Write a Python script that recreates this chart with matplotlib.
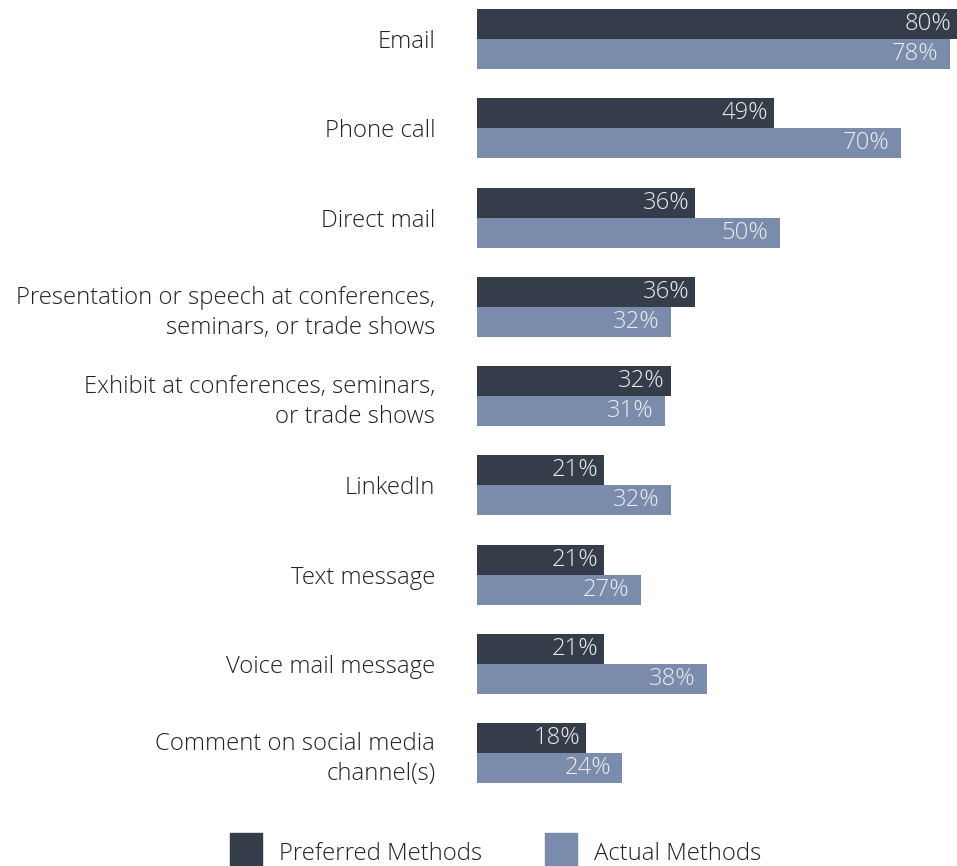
import matplotlib
matplotlib.use("Agg")
import matplotlib.pyplot as plt
from matplotlib.patches import Rectangle

categories = [
    "Email",
    "Phone call",
    "Direct mail",
    "Presentation or speech at conferences,\nseminars, or trade shows",
    "Exhibit at conferences, seminars,\nor trade shows",
    "LinkedIn",
    "Text message",
    "Voice mail message",
    "Comment on social media\nchannel(s)",
]
preferred = [80, 49, 36, 36, 32, 21, 21, 21, 18]
actual = [78, 70, 50, 32, 31, 32, 27, 38, 24]
series_names = ["Preferred Methods", "Actual Methods"]

DARK = "#353d4b"
LIGHT = "#7a8bab"
LABEL = "#ececec"
FS = 17.2

plt.rcParams["font.family"] = ["Open Sans", "DejaVu Sans"]

W, H = 957, 866
fig = plt.figure(figsize=(W / 100, H / 100), dpi=100)
ax = fig.add_axes([477 / W, 1 - 790 / H, 1 - 477 / W, 790 / H])

bh = 0.336
ys = list(range(len(categories)))
ax.barh([y - bh / 2 for y in ys], preferred, height=bh, color=DARK)
ax.barh([y + bh / 2 for y in ys], actual, height=bh, color=LIGHT)

for y, p, a in zip(ys, preferred, actual):
    ax.text(min(p, 79.2) - 1.0, y - bh / 2, f"{p}%", ha="right", va="center",
            color=LABEL, fontsize=FS, fontweight="light")
    ax.text(a - 1.9, y + bh / 2, f"{a}%", ha="right", va="center",
            color=LABEL, fontsize=FS, fontweight="light")

ax.set_xlim(0, (957 - 477) / 6.06)
ax.set_ylim(8.414, -0.437)
ax.set_yticks(ys)
ax.set_yticklabels(categories, fontsize=FS, color="#222222", fontweight="light",
                   linespacing=1.35)
ax.tick_params(axis="y", length=0, pad=30)
ax.set_xticks([])
for s in ax.spines.values():
    s.set_visible(False)

# legend drawn by hand
for x0, color, name in [(230, DARK, series_names[0]), (545, LIGHT, series_names[1])]:
    fig.patches.append(Rectangle((x0 / W, 1 - 866 / H), 32 / W, 33 / H,
                                 transform=fig.transFigure, color=color))
    fig.text((x0 + 49) / W, 1 - 854 / H, name, fontsize=FS, color="#222222",
             fontweight="light", va="center", ha="left")

fig.savefig("out.png", dpi=100)
